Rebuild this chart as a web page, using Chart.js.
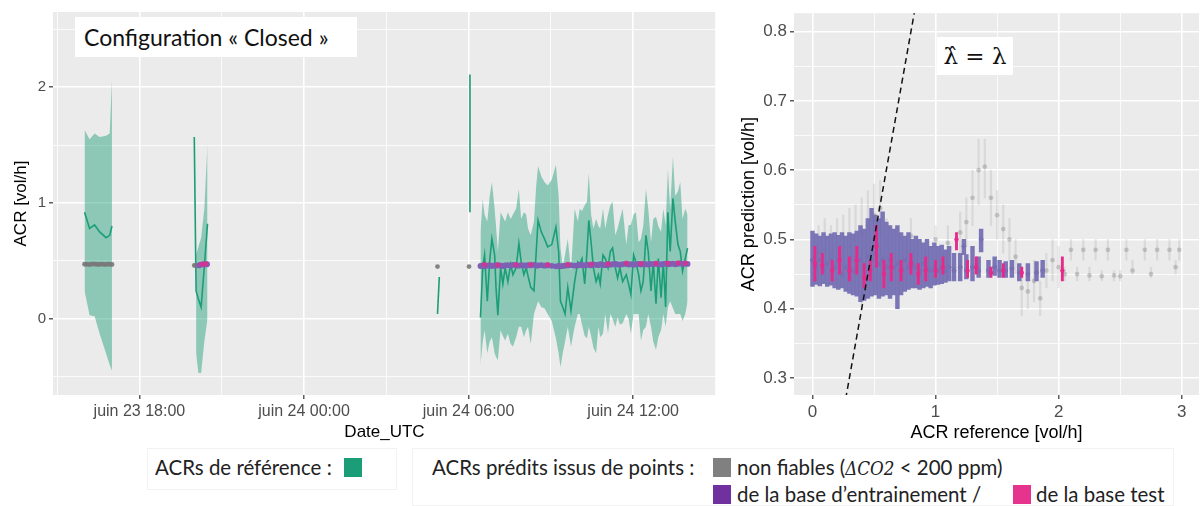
<!DOCTYPE html>
<html>
<head>
<meta charset="utf-8">
<script src="https://cdn.jsdelivr.net/npm/chart.js@4"></script>
<style>
  body { margin: 0; background: #fff; }
  #wrap { position: relative; width: 1203px; height: 506px; overflow: hidden; background: #fff;
          font-family: 'Liberation Sans', Arial, sans-serif; }
  #leftBox  { position: absolute; left: 0;     top: 0; width: 720px; height: 445px; }
  #rightBox { position: absolute; left: 720px; top: 0; width: 483px; height: 445px; }
  .tag { position: absolute; background: #fff; color: #111; white-space: nowrap; }
  #tagClosed { left: 75px; top: 17px; width: 282px; height: 40px; font: 23px 'Lato', sans-serif;
               line-height: 40px; padding-left: 9px; box-sizing: border-box; }
  #tagLambda { left: 937px; top: 37px; width: 76px; height: 38px; font: 23px 'DejaVu Serif', serif;
               line-height: 38px; text-align: center; }
  .lg { position: absolute; font: 22px 'Lato', sans-serif; color: #222; white-space: nowrap; line-height: 24px;
        transform: scaleX(0.93); transform-origin: left center; }
  .sw { position: absolute; width: 18px; height: 19px; }
  .frame { position: absolute; border: 1px solid #f2f2f2; }
</style>
</head>
<body>
<div id="wrap">
  <div id="leftBox"><canvas id="acrTime"></canvas></div>
  <div id="rightBox"><canvas id="acrScatter"></canvas></div>
  <div class="tag" id="tagClosed">Configuration «&nbsp;Closed&nbsp;»</div>
  <div class="tag" id="tagLambda">λ̂ = λ</div>

  <div class="frame" style="left:147px;top:448px;width:248px;height:40px;"></div>
  <div class="frame" style="left:412px;top:448px;width:760px;height:56px;"></div>
  <div class="lg" style="left:155px;top:455px;">ACRs de référence :</div>
  <div class="sw" style="left:344px;top:458px;background:#1b9e77;"></div>
  <div class="lg" style="left:432px;top:455px;">ACRs prédits issus de points :</div>
  <div class="sw" style="left:713px;top:458px;background:#808080;"></div>
  <div class="lg" style="left:737px;top:455px;">non fiables (<i style="font-family:'DejaVu Serif',serif;font-size:18px;">ΔCO2</i> &lt; 200 ppm)</div>
  <div class="sw" style="left:713px;top:485px;background:#7030a0;"></div>
  <div class="lg" style="left:737px;top:482px;">de la base d’entrainement /</div>
  <div class="sw" style="left:1013px;top:485px;background:#e6338e;"></div>
  <div class="lg" style="left:1036px;top:482px;">de la base test</div>
</div>

<script>
/* ── Left panel: reference ACR over time ───────────────────── */
// times are "day hh:mm" (juin 23 / juin 24), null = break in the series
const earlyTimes = ['23 16:00','23 16:11','23 16:22','23 16:33','23 16:47','23 16:55','23 17:00', null,
                    '23 20:00','23 20:04','23 20:09','23 20:15','23 20:22','23 20:29', null,
                    '24 04:52','24 04:56', null, '24 06:03','24 06:03'];
const earlyMid = [.92,.78,.81,.75,.70,.72,.80, null, 1.57,.24,.17,.10,.45,.82, null, .04,.36, null, 2.11,.92];
const earlyHi  = [1.63,1.55,1.60,1.57,1.58,1.60,2.06, null, null,.55,.62,.70,.95,1.52, null, null,null, null, null,null];
const earlyLo  = [.24,.03,.02,-.13,-.30,-.40,-.45, null, null,-.30,-.47,-.47,-.20,.00, null, null,null, null, null,null];

const mainTimes = ['24 06:26','24 06:31','24 06:35','24 06:41','24 06:46','24 06:51','24 06:57','24 07:00','24 07:04','24 07:10',
                   '24 07:15','24 07:20','24 07:26','24 07:32','24 07:37','24 07:44','24 07:50','24 07:55','24 08:01','24 08:06',
                   '24 08:10','24 08:16','24 08:23','24 08:28','24 08:32','24 08:39','24 08:46','24 08:53','24 09:02','24 09:11',
                   '24 09:17','24 09:21','24 09:26','24 09:31','24 09:37','24 09:44','24 09:52','24 09:59','24 10:03','24 10:08',
                   '24 10:14','24 10:19','24 10:23','24 10:28','24 10:33','24 10:39','24 10:44','24 10:48','24 10:54','24 10:59',
                   '24 11:05','24 11:10','24 11:15','24 11:21','24 11:26','24 11:31','24 11:37','24 11:45','24 11:50','24 11:55',
                   '24 12:01','24 12:06','24 12:12','24 12:17','24 12:22','24 12:28','24 12:33','24 12:39','24 12:44','24 12:50',
                   '24 12:55','24 13:01','24 13:06','24 13:11','24 13:16','24 13:21','24 13:27','24 13:32','24 13:38','24 13:43',
                   '24 13:48','24 13:54','24 13:59'];
const mainMid = [.01,.44,.55,.15,.49,.69,.55,.27,.03,.44, .30,.44,.32,.47,.38,.44,.65,.49,.38,.44,
                 .37,.27,.24,.58,.85,.75,.69,.62,.64,.79, .58,.15,.10,.04,.27,.07,.32,.49,.47,.52,
                 .30,.58,.85,.66,.44,.32,.38,.30,.55,.52, .44,.58,.61,.44,.35,.44,.32,.38,.30,.21,
                 .55,.49,.38,.24,.32,.72,.58,.24,.49,.13, .52,.18,.49,.10,.92,.58,1.04,.84,.64,.58,
                 .41,.52,.61];
const mainHi  = [.75,1.03,.90,.84,1.05,1.18,.95,.80,.58,.92, .88,.84,.92,.86,.90,.95,1.12,.86,.92,.90,
                 .78,.72,.84,1.15,1.32,1.23,1.18,1.15,1.20,1.33, 1.06,.61,.45,.55,.69,.41,.95,.84,.95,.93,
                 .98,1.01,1.26,.90,.78,.86,.80,.78,.95,.78, .90,.98,1.01,.72,.78,.86,.95,.64,.81,.81,
                 .90,.92,.66,.69,.80,1.12,.95,.66,.86,.88, .80,.75,.95,.81,1.29,.95,1.40,1.06,1.10,1.18,
                 .86,.95,.90];
const mainLo  = [-.40,-.20,-.10,-.30,-.20,-.16,-.30,-.33,-.36,-.10, -.15,-.19,-.13,-.22,-.24,-.16,-.07,-.07,-.16,-.10,
                 -.07,-.22,.04,.10,.15,.10,.09,.04,-.02,-.17, -.30,-.42,-.30,-.20,-.07,-.24,-.07,.04,.04,-.05,
                 -.15,-.17,-.07,-.15,-.25,-.30,-.07,-.16,-.13,.04, -.13,.04,.00,-.07,.01,-.05,-.04,.04,.00,-.13,
                 .04,.04,.04,-.19,-.10,-.07,.04,-.07,-.20,-.27, -.16,-.10,.04,-.07,.10,.15,.09,.04,.04,.04,
                 -.02,.04,.15];

// predicted ACRs on the time axis
const grayTimes = ['23 16:00','23 16:05','23 16:10','23 16:15','23 16:20','23 16:25','23 16:30','23 16:35','23 16:40',
                   '23 16:45','23 16:50','23 16:55','23 17:00','23 20:00','23 20:03','23 20:06','23 20:09',
                   '24 04:52','24 06:01'];
const grayVals  = [.47,.47,.468,.47,.472,.47,.468,.47,.47,.468,.47,.47,.468,.46,.46,.46,.46,.45,.45];

const earlyPredTimes = ['23 20:10','23 20:13','23 20:16','23 20:19','23 20:22','23 20:25','23 20:28'];
const earlyPredTrain = [.46,.465,null,.47,.468,null,.47];
const earlyPredTest  = [null,null,.47,null,null,.475,null];

const mainTrain = [.455,.46,.452,.458,.462,.455,.46,.457,.463,.458, .455,.46,.462,.458,.465,.46,.458,.462,.46,.457,
                   .463,.46,.465,.458,.46,.462,.458,.46,.456,.452, .455,.452,.455,.458,.46,.462,.458,.46,.465,.462,
                   .46,.466,.463,.46,.468,.465,.462,.47,.465,.462, .468,.466,.47,.472,.468,.465,.47,.473,.468,.47,
                   .466,.47,.472,.468,.474,.47,.468,.472,.47,.475, .47,.468,.472,.476,.47,.472,.475,.47,.474,.478,
                   .472,.476,.473];
const mainTest  = [null,null,.47,null,null,null,null,null,.465,null, null,null,null,null,null,.468,null,null,null,null,
                   null,.47,null,null,null,null,null,.466,null,null, null,null,null,null,.47,null,null,null,null,null,
                   null,null,null,.472,null,null,null,null,null,null, .475,null,null,null,null,null,null,.48,null,null,
                   null,null,null,.476,null,null,null,null,null,.478, null,null,null,null,.48,null,null,null,.482,null,
                   null,.48,null];

const leftXMajor  = [18, 24, 30, 36];
const leftXLabels = ['juin 23 18:00', 'juin 24 00:00', 'juin 24 06:00', 'juin 24 12:00'];
const leftXMinor  = [15, 21, 27, 33, 39];
const leftYMajor  = [0, 1, 2];
const leftYMinor  = [-0.5, 0.5, 1.5, 2.5];

/* ── Right panel: predicted vs reference ───────────────────── */
const trainRef  = [0,.03,.06,.09,.12,.15,.18,.21,.24,.27,.30,.33,.36,.39,.42,.45,.48,.51,.54,.57,.60,.63,.66,.69,.72,
                   .75,.78,.81,.84,.87,.90,.93,.96,.99,1.02,1.05,1.08,1.11,
                   1.15,1.20,1.23,1.25,1.30,1.35,1.37,1.43,1.48,1.52,1.57,1.62,1.68,1.75,1.82,1.87];
const trainLo   = [.432,.435,.433,.436,.432,.434,.430,.428,.430,.425,.422,.420,.418,.410,.412,.415,.418,.420,.415,.418,
                   .420,.415,.420,.400,.420,.425,.428,.430,.430,.428,.430,.432,.430,.434,.435,.436,.438,.440,
                   .440,.440,.478,.443,.440,.445,.482,.445,.448,.445,.445,.445,.440,.440,.440,.445];
const trainHi   = [.512,.508,.505,.510,.505,.508,.510,.506,.510,.505,.510,.508,.512,.520,.515,.530,.545,.535,.530,.540,
                   .525,.520,.515,.520,.510,.505,.510,.500,.505,.500,.495,.500,.490,.495,.490,.492,.485,.490,
                   .480,.480,.500,.478,.490,.475,.515,.470,.475,.470,.468,.470,.465,.465,.468,.470];
const trainPred = [.470,.460,.470,.455,.465,.470,.460,.470,.450,.460,.470,.455,.460,.470,.460,.475,.470,.480,.465,.470,
                   .460,.470,.460,.465,.455,.470,.460,.465,.460,.455,.465,.460,.455,.460,.455,.460,.455,.460,
                   .455,.460,.490,.455,.460,.455,.500,.455,.460,.455,.455,.458,.452,.450,.452,.455];

const testRef  = [.02,.08,.16,.22,.30,.36,.42,.47,.52,.58,.64,.72,.80,.86,.92,1.00,1.06,1.17,1.26,1.33,1.45,1.55,1.70,2.03];
const testLo   = [.44,.45,.44,.45,.44,.45,.43,.44,.46,.43,.44,.44,.45,.435,.44,.445,.45,.485,.445,.45,.445,.445,.445,.44];
const testHi   = [.49,.48,.47,.49,.475,.49,.465,.47,.52,.47,.48,.47,.48,.465,.475,.47,.475,.51,.47,.475,.46,.465,.46,.475];
const testPred = [.465,.462,.455,.47,.455,.47,.445,.455,.49,.45,.46,.455,.465,.45,.455,.455,.46,.50,.455,.46,.452,.455,.452,.455];

const unrelRef  = [.05,.10,.15,.20,.25,.30,.35,.40,.45,.50,.55,.60, .40, .80, 1.00,1.10,
                   1.20,1.25,1.30,1.35,1.40,1.45,1.50,1.55,1.60,1.65,1.70,1.75,1.80,1.85,1.90,1.95,
                   2.00,2.05,2.10,2.15,2.20,2.25,2.30,2.35,2.40,2.45,2.50,2.55,2.60, 2.70,2.75,2.80,2.90,2.95,2.98];
const unrelLo   = [.44,.45,.45,.44,.45,.45,.46,.47,.48,.49,.50,.47, .40, .48, .48,.47,
                   .48,.49,.52,.55,.56,.52,.50,.48,.47,.45,.39,.40,.41,.39,.43,.44,
                   .43,.44,.47,.44,.47,.44,.47,.44,.47,.44,.44,.47,.45, .47,.445,.47,.47,.45,.47];
const unrelHi   = [.52,.53,.52,.53,.535,.545,.55,.56,.57,.58,.585,.53, .43, .53, .52,.52,
                   .54,.56,.60,.645,.645,.60,.57,.55,.53,.50,.46,.45,.47,.44,.48,.50,
                   .49,.46,.50,.46,.50,.46,.50,.455,.50,.455,.455,.50,.47, .50,.46,.50,.50,.47,.50];
const unrelPred = [.48,.485,.48,.475,.49,.49,.50,.51,.52,.535,.545,.50, .415, .505, .50,.495,
                   .51,.525,.56,.60,.605,.56,.535,.515,.50,.475,.43,.425,.44,.415,.455,.47,
                   .46,.45,.485,.45,.485,.448,.485,.447,.485,.448,.447,.485,.455, .485,.45,.485,.485,.46,.485];

const identityLine = [0, 1];   // λ̂ = λ
const rightXMajor = [0, 1, 2, 3];
const rightXMinor = [0.5, 1.5, 2.5];
const rightYMajor = [0.3, 0.4, 0.5, 0.6, 0.7, 0.8];
const rightYMinor = [0.35, 0.45, 0.55, 0.65, 0.75];

/* ── Shared palette ─────────────────────────────────────────── */
const palette = {
    panel:   '#ebebeb',
    green:   '#1b9e77',
    ribbon:  'rgba(27, 158, 119, 0.45)',
    gray:    'rgba(120, 120, 120, 0.9)',
    grayErr: 'rgba(110, 110, 110, 0.14)',
    grayPt:  'rgba(100, 100, 100, 0.28)',
    purple:  '#7570b3',
    pink:    '#e7298a',
    tick:    '#4d4d4d',
};

Chart.defaults.font.family = "'Liberation Sans', Arial, sans-serif";
Chart.defaults.animation = false;

function parseT(s) {
    const [d, hm] = s.split(' ');
    const [h, m] = hm.split(':').map(Number);
    return (Number(d) - 23) * 24 + h + m / 60;
}

// split a (times, values) pair into runs without nulls
function runs(times, vals) {
    const out = [];
    let cur = [];
    times.forEach((t, i) => {
        const v = vals[i];
        if (t === null || v === null || v === undefined) {
            if (cur.length) out.push(cur);
            cur = [];
        } else {
            cur.push({ x: parseT(t), y: v });
        }
    });
    if (cur.length) out.push(cur);
    return out;
}

const points = (times, vals) => runs(times, vals).flat();

const panelBg = {
    id: 'panelBg',
    beforeDraw(chart) {
        const { ctx, chartArea: a } = chart;
        ctx.save();
        ctx.fillStyle = palette.panel;
        ctx.fillRect(a.left, a.top, a.right - a.left, a.bottom - a.top);
        ctx.restore();
    },
};

// ggplot-like axis: major ticks labelled, minor ones only as thin gridlines
function ggAxis(major, minor, label, fontSize, extra = {}) {
    const isMajor = v => major.some(m => Math.abs(m - v) < 1e-9);
    return {
        type: 'linear',
        offset: false,
        afterBuildTicks: s => {
            s.ticks = [...major, ...minor].sort((a, b) => a - b).map(v => ({ value: v }));
        },
        ticks: {
            autoSkip: false,
            maxRotation: 0,
            padding: 3,
            color: palette.tick,
            font: { size: fontSize },
            callback: v => (isMajor(v) ? label(v) : ''),
        },
        grid: {
            offset: false,
            color: '#ffffff',
            lineWidth: ctx => (ctx.tick && isMajor(ctx.tick.value) ? 1.6 : 0.8),
            tickColor: ctx => (ctx.tick && isMajor(ctx.tick.value) ? '#333333' : 'rgba(0,0,0,0)'),
            tickWidth: 1.2,
            tickLength: 4,
        },
        border: { display: false },
        ...extra,
    };
}

/* ── Left chart ─────────────────────────────────────────────── */
const allTimes = [...earlyTimes, null, ...mainTimes];
const allMid   = [...earlyMid, null, ...mainMid];
const allHi    = [...earlyHi, null, ...mainHi];
const allLo    = [...earlyLo, null, ...mainLo];

const leftSets = [];
const hiRuns = runs(allTimes, allHi);
const loRuns = runs(allTimes, allLo);
hiRuns.forEach((r, k) => {
    leftSets.push({ type: 'line', data: r, fill: '+1', backgroundColor: palette.ribbon,
                    borderWidth: 0, pointRadius: 0, order: 10 });
    leftSets.push({ type: 'line', data: loRuns[k], fill: false, borderWidth: 0, pointRadius: 0, order: 10 });
});
runs(allTimes, allMid).forEach(r => {
    leftSets.push({ type: 'line', data: r, borderColor: palette.green, borderWidth: 1.6,
                    pointRadius: 0, fill: false, tension: 0, order: 5 });
});
leftSets.push({ type: 'scatter', data: points(grayTimes, grayVals), backgroundColor: palette.gray,
                pointRadius: 2.4, borderWidth: 0, order: 4 });
leftSets.push({ type: 'scatter',
                data: [...points(earlyPredTimes, earlyPredTrain), ...points(mainTimes, mainTrain)],
                backgroundColor: '#7f5fb4', pointRadius: 2.9, borderWidth: 0, order: 3 });
leftSets.push({ type: 'scatter',
                data: [...points(earlyPredTimes, earlyPredTest), ...points(mainTimes, mainTest)],
                backgroundColor: 'rgba(231, 41, 138, 0.75)', pointRadius: 2.6, borderWidth: 0, order: 2 });

new Chart(document.getElementById('acrTime'), {
    type: 'scatter',
    data: { datasets: leftSets },
    options: {
        responsive: true,
        maintainAspectRatio: false,
        devicePixelRatio: 1,
        layout: { padding: { top: 8, right: 3, left: 0, bottom: 0 } },
        plugins: { legend: { display: false }, tooltip: { enabled: false } },
        scales: {
            x: ggAxis(leftXMajor, leftXMinor, v => leftXLabels[leftXMajor.indexOf(v)], 16, {
                min: 14.85, max: 39.02,
                afterFit: s => { s.height = 50; },
                title: { display: true, text: 'Date_UTC', color: '#000', font: { size: 17 },
                         padding: { top: 0, bottom: 2 } },
            }),
            y: ggAxis(leftYMajor, leftYMinor, v => String(v), 15, {
                min: -0.66, max: 2.65,
                afterFit: s => { s.width = 53; },
                title: { display: true, text: 'ACR [vol/h]', color: '#000', font: { size: 17 },
                         padding: { top: 11, bottom: 0 } },
            }),
        },
    },
    plugins: [panelBg],
});

/* ── Right chart ────────────────────────────────────────────── */
const errBars = (xs, lo, hi) => xs.map((x, i) => ({ x, y: [lo[i], hi[i]] }));
const dots    = (xs, ys) => xs.map((x, i) => ({ x, y: ys[i] }));

new Chart(document.getElementById('acrScatter'), {
    type: 'scatter',
    data: {
        datasets: [
            { type: 'bar', data: errBars(unrelRef, unrelLo, unrelHi), backgroundColor: palette.grayErr,
              barThickness: 1.6, grouped: false, order: 10 },
            { type: 'scatter', data: dots(unrelRef, unrelPred), backgroundColor: palette.grayPt,
              pointRadius: 2.4, borderWidth: 0, order: 9 },
            { type: 'bar', data: errBars(trainRef, trainLo, trainHi), backgroundColor: 'rgba(117, 112, 179, 0.95)',
              barThickness: 3.8, grouped: false, order: 8 },
            { type: 'scatter', data: dots(trainRef, trainPred), backgroundColor: palette.purple,
              pointRadius: 2.4, borderWidth: 0, order: 7 },
            { type: 'bar', data: errBars(testRef, testLo, testHi), backgroundColor: palette.pink,
              barThickness: 2.2, grouped: false, order: 6 },
            { type: 'scatter', data: dots(testRef, testPred), backgroundColor: palette.pink,
              pointRadius: 2.2, borderWidth: 0, order: 5 },
            { type: 'line', data: dots(identityLine, identityLine), borderColor: '#111', borderWidth: 1.5,
              borderDash: [6, 4], pointRadius: 0, fill: false, order: 1 },
        ],
    },
    options: {
        responsive: true,
        maintainAspectRatio: false,
        devicePixelRatio: 1,
        layout: { padding: { top: 7, right: 0, left: 0, bottom: 0 } },
        plugins: { legend: { display: false }, tooltip: { enabled: false } },
        scales: {
            x: ggAxis(rightXMajor, rightXMinor, v => String(v), 17, {
                min: -0.15, max: 3.14,
                afterFit: s => { s.height = 50; },
                title: { display: true, text: 'ACR reference [vol/h]', color: '#000', font: { size: 18 },
                         padding: { top: 0, bottom: 1 } },
            }),
            y: ggAxis(rightYMajor, rightYMinor, v => v.toFixed(1), 17, {
                min: 0.2754, max: 0.8266,
                afterFit: s => { s.width = 74; },
                title: { display: true, text: 'ACR prediction [vol/h]', color: '#000', font: { size: 18 },
                         padding: { top: 18, bottom: 0 } },
            }),
        },
    },
    plugins: [panelBg],
});
</script>
</body>
</html>
